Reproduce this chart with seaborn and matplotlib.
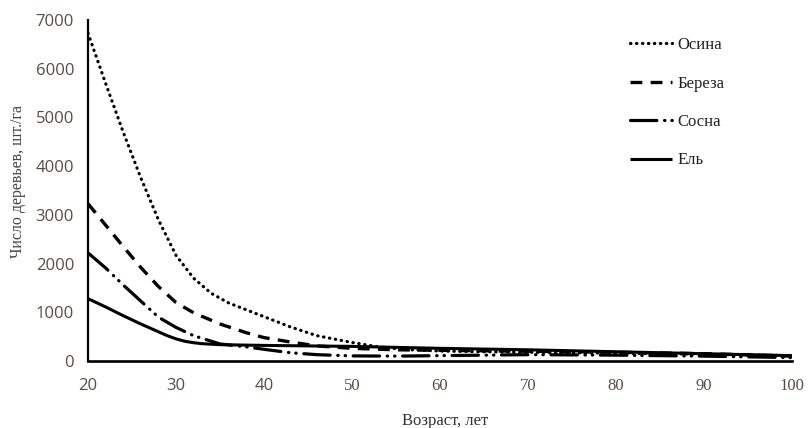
import matplotlib
matplotlib.use("Agg")
import matplotlib.pyplot as plt
import seaborn as sns
import pandas as pd

# ---- data ----
age_osina = [20, 22, 24, 26, 28, 30, 32, 34, 36, 38, 40, 43, 46, 50, 53, 56, 60, 65, 70, 80, 90, 100]
osina = [6730, 5700, 4700, 3760, 2900, 2170, 1700, 1390, 1190, 1050, 910, 700, 520, 380, 290, 235, 205, 190, 180, 160, 140, 110]

age_bereza = [20, 22, 24, 26, 28, 30, 32, 35, 38, 40, 43, 46, 50, 55, 60, 70, 80, 90, 100]
bereza = [3230, 2790, 2350, 1920, 1530, 1200, 990, 760, 580, 480, 390, 310, 260, 230, 220, 200, 180, 150, 100]

age_sosna = [20, 22, 24, 26, 28, 30, 32, 35, 38, 40, 43, 46, 50, 55, 60, 70, 80, 90, 100]
sosna = [2220, 1910, 1560, 1230, 900, 690, 520, 350, 290, 240, 170, 130, 105, 100, 110, 130, 120, 100, 70]

age_el = [20, 22, 24, 26, 28, 29, 30, 31, 32, 33, 35, 40, 45, 50, 55, 60, 70, 80, 90, 100]
el = [1280, 1110, 930, 760, 600, 520, 455, 405, 375, 355, 335, 320, 310, 300, 280, 260, 230, 190, 150, 110]

labels = ["Осина", "Береза", "Сосна", "Ель"]
x_ticks = [20, 30, 40, 50, 60, 70, 80, 90, 100]
y_ticks = [0, 1000, 2000, 3000, 4000, 5000, 6000, 7000]

sns.set_theme(style="white")
plt.rcParams["font.family"] = ["Liberation Serif", "DejaVu Serif"]
plt.rcParams["lines.scale_dashes"] = False

fig = plt.figure(figsize=(8.08, 4.28), dpi=100)
ax = fig.add_axes([88 / 808, 1 - 361 / 428, (792 - 88) / 808, (361 - 20) / 428])

series = [
    (age_osina, osina, labels[0], dict(dashes=(0.3, 4.0), lw=2.3, cap="round")),
    (age_bereza, bereza, labels[1], dict(dashes=(8.5, 6.0), lw=2.4, cap="butt")),
    (age_sosna, sosna, labels[2], dict(dashes=(19, 5.5, 0.3, 5.0, 0.3, 5.5), lw=2.3, cap="round")),
    (age_el, el, labels[3], dict(dashes=None, lw=2.2, cap="butt")),
]

for xs, ys, lab, st in series:
    df = pd.DataFrame({"Возраст": xs, "Число": ys})
    sns.lineplot(data=df, x="Возраст", y="Число", ax=ax, color="black",
                 linewidth=st["lw"], label=lab)
    line = ax.get_lines()[-1]
    if st["dashes"] is not None:
        line.set_dashes(st["dashes"])
    line.set_dash_capstyle(st["cap"])
    line.set_solid_capstyle("butt")
    line.set_solid_joinstyle("round")
    line.set_dash_joinstyle("round")

ax.set_xlim(20, 100)
ax.set_ylim(0, 7000)
ax.set_xticks(x_ticks)
ax.set_yticks(y_ticks)

for s in ["top", "right"]:
    ax.spines[s].set_visible(False)
for s in ["left", "bottom"]:
    ax.spines[s].set_color("black")
ax.spines["left"].set_linewidth(1.6)
ax.spines["bottom"].set_linewidth(1.9)

tick_color = "#5a4c46"
ax.tick_params(axis="both", direction="in", length=5, width=1.5, color="black",
               labelsize=12, labelcolor=tick_color)
ax.tick_params(axis="y", pad=10)
ax.tick_params(axis="x", pad=12)
ax.set_xticklabels([str(v) for v in x_ticks])
ax.set_yticklabels([str(v) for v in y_ticks])
for t in ax.get_yticklabels():
    t.set_fontfamily(["Open Sans", "DejaVu Sans"])
for i, t in enumerate(ax.get_xticklabels()):
    if i < 3:
        t.set_fontfamily(["Open Sans", "DejaVu Sans"])
    else:
        t.set_fontfamily(["Liberation Serif", "DejaVu Serif"])

ax.set_xlabel("")
ax.set_ylabel("")
fig.text(445 / 808, 1 - 421 / 428, "Возраст, лет", ha="center", va="center",
         fontsize=12, color="#333333")
fig.text(18 / 808, 1 - 182 / 428, "Число деревьев, шт./га", ha="center", va="center",
         rotation=90, fontsize=11.5, color="#444444",
         family=["Liberation Serif", "DejaVu Serif"])

ax.grid(False)
leg = ax.legend(loc="upper left", bbox_to_anchor=(630 / 808, 1 - 37 / 428),
                bbox_transform=fig.transFigure, frameon=False, fontsize=12,
                handlelength=2.5, handletextpad=0.35, labelspacing=1.35,
                borderpad=0, borderaxespad=0)
for t in leg.get_texts():
    t.set_color("#222222")

fig.savefig("out.png", dpi=100, facecolor="white")
